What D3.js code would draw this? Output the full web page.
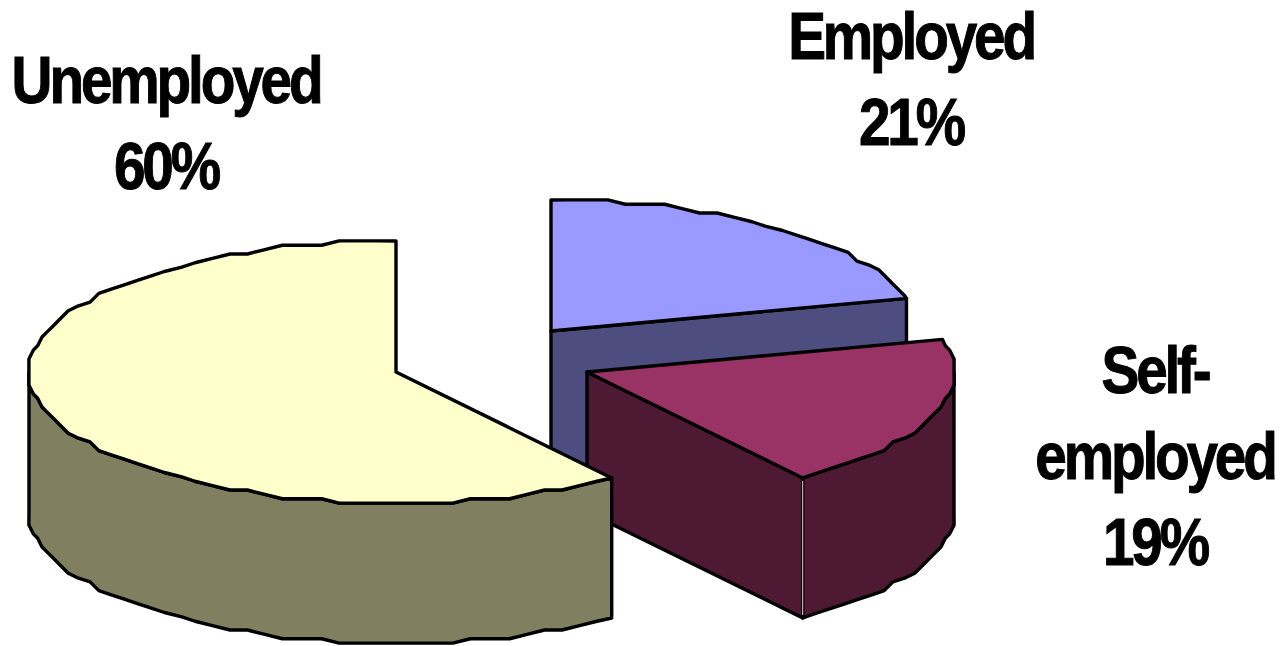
<!DOCTYPE html>
<html>
<head>
<meta charset="utf-8">
<script src="https://cdn.jsdelivr.net/npm/d3@7"></script>
<style>
html,body{margin:0;padding:0;background:#fff;overflow:hidden}
svg{display:block}
</style>
</head>
<body>
<svg id="c" width="1283" height="646"></svg>
<script>
const categories = ["Employed", "Self-employed", "Unemployed"];
const values = [21, 19, 60];
const topColors = ["#9999FF", "#993366", "#FFFFCC"];
const wallColors = ["#4D4D80", "#4D1933", "#808060"];
const labelLines = [["Employed", "21%"], ["Self-", "employed", "19%"], ["Unemployed", "60%"]];

const W = 1283, H = 646, RX = 367, RY = 131, DEPTH = 140, GRID = 4.37;
const centers = [[551, 331], [587, 372], [396, 372]];
const labelAnchors = [[911, 59], [1155, 393], [166, 103]];
const LINE = 86;

const svg = d3.select("#c");
const pie = d3.pie().sort(null).value(d => d);
const arcs = pie(values);

const px = d3.scaleLinear().domain([-1, 1]).range([-RX, RX]);
const py = d3.scaleLinear().domain([-1, 1]).range([-RY, RY]);
const q = v => Math.round(v / GRID) * GRID;
const STEP = Math.PI / 60;

// ragged outline like the low-resolution metafile source: every rim shares one angular grid
function rim(c, a0, a1, dy) {
  const inner = d3.range(Math.floor(a0 / STEP) + 1, Math.ceil(a1 / STEP)).map(k => k * STEP);
  const pts = inner.map(a => [c[0] + q(px(Math.sin(a))), c[1] + q(py(-Math.cos(a))) + dy]);
  const exact = a => [c[0] + px(Math.sin(a)), c[1] + py(-Math.cos(a)) + dy];
  return [exact(a0), ...pts, exact(a1)];
}
const line = d3.line();
const closed = pts => line(pts) + "Z";
const black = sel => sel.attr("stroke", "#000").attr("stroke-width", 3.4).attr("stroke-linejoin", "round");

categories.forEach((cat, i) => {
  const a = arcs[i], c = centers[i];
  const g = svg.append("g").attr("class", "slice");
  const s = a.startAngle, e = a.endAngle;
  const P = (t, dy) => [c[0] + px(Math.sin(t)), c[1] + py(-Math.cos(t)) + dy];

  // radial wall visible at the slice's end edge (only for slices facing the viewer)
  if (e < Math.PI) {
    const p = P(e, 0), b = P(e, DEPTH);
    black(g.append("path").attr("fill", wallColors[i])
      .attr("d", closed([c, p, b, [c[0], c[1] + DEPTH]])));
  }
  // outer curved wall: the part between 90° and 270° faces the viewer
  const w0 = Math.max(s, Math.PI / 2), w1 = Math.min(e, Math.PI * 1.5);
  if (w1 > w0) {
    const top = rim(c, w0, w1, 0), bottom = rim(c, w0, w1, DEPTH).reverse();
    black(g.append("path").attr("fill", wallColors[i]).attr("d", closed(top.concat(bottom))));
    if (e < Math.PI) {
      const p = P(e, 0), b = P(e, DEPTH);
      g.append("line").attr("x1", p[0]).attr("y1", p[1] + 3).attr("x2", b[0]).attr("y2", b[1] - 3)
        .attr("stroke", "#e4dce4").attr("stroke-width", 1);
    }
  }
  // top face
  black(g.append("path").attr("fill", topColors[i])
    .attr("d", closed([c].concat(rim(c, s, e, 0)))));
});

labelLines.forEach((lines, i) => {
  lines.forEach((t, j) => {
    svg.append("text")
      .attr("transform", `translate(${labelAnchors[i][0]},${labelAnchors[i][1] + j * LINE}) scale(0.86,1)`)
      .attr("text-anchor", "middle")
      .attr("font-family", "'Liberation Sans', Arial, sans-serif")
      .attr("font-weight", 700)
      .attr("font-size", 66)
      .attr("letter-spacing", -3.7)
      .attr("stroke", "#000").attr("stroke-width", 1)
      .text(t);
  });
});
</script>
</body>
</html>
